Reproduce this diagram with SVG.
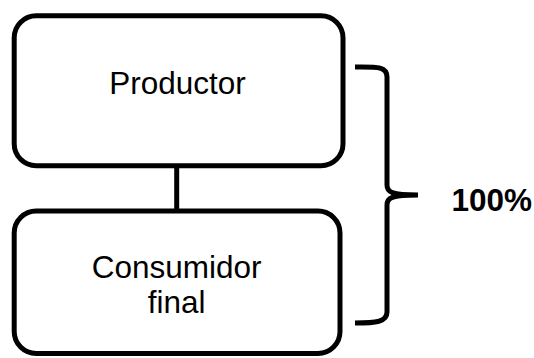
<svg xmlns="http://www.w3.org/2000/svg" width="534" height="358" viewBox="0 0 534 358">
<style>
.box{fill:#fff;stroke:#000;stroke-width:5}
.ln{fill:none;stroke:#000;stroke-width:5}
.t{font-family:"Liberation Sans",Arial,sans-serif;font-size:31.5px;fill:#000;text-anchor:middle}
.b{font-weight:bold}
</style>
<g id="connectors">
<line class="ln" x1="176.7" y1="165" x2="176.7" y2="212"/>
<path class="ln" d="M355,67 C376,67 387,66 387,77 L387,185 C387,192 391,195 418,195 C391,195 387,198 387,205 L387,312 C387,322 376,323 355,323"/>
</g>
<g id="productor">
<rect class="box" x="14.2" y="15.8" width="328.8" height="150" rx="22"/>
<text class="t" x="177.5" y="94.3">Productor</text>
</g>
<g id="consumidor">
<rect class="box" x="14.2" y="211" width="325.8" height="142.5" rx="22"/>
<text class="t" x="176.7" y="278.3">Consumidor</text>
<text class="t" x="176.7" y="313.3">final</text>
</g>
<g id="label">
<text class="t b" x="491.7" y="210.7">100%</text>
</g>
</svg>
